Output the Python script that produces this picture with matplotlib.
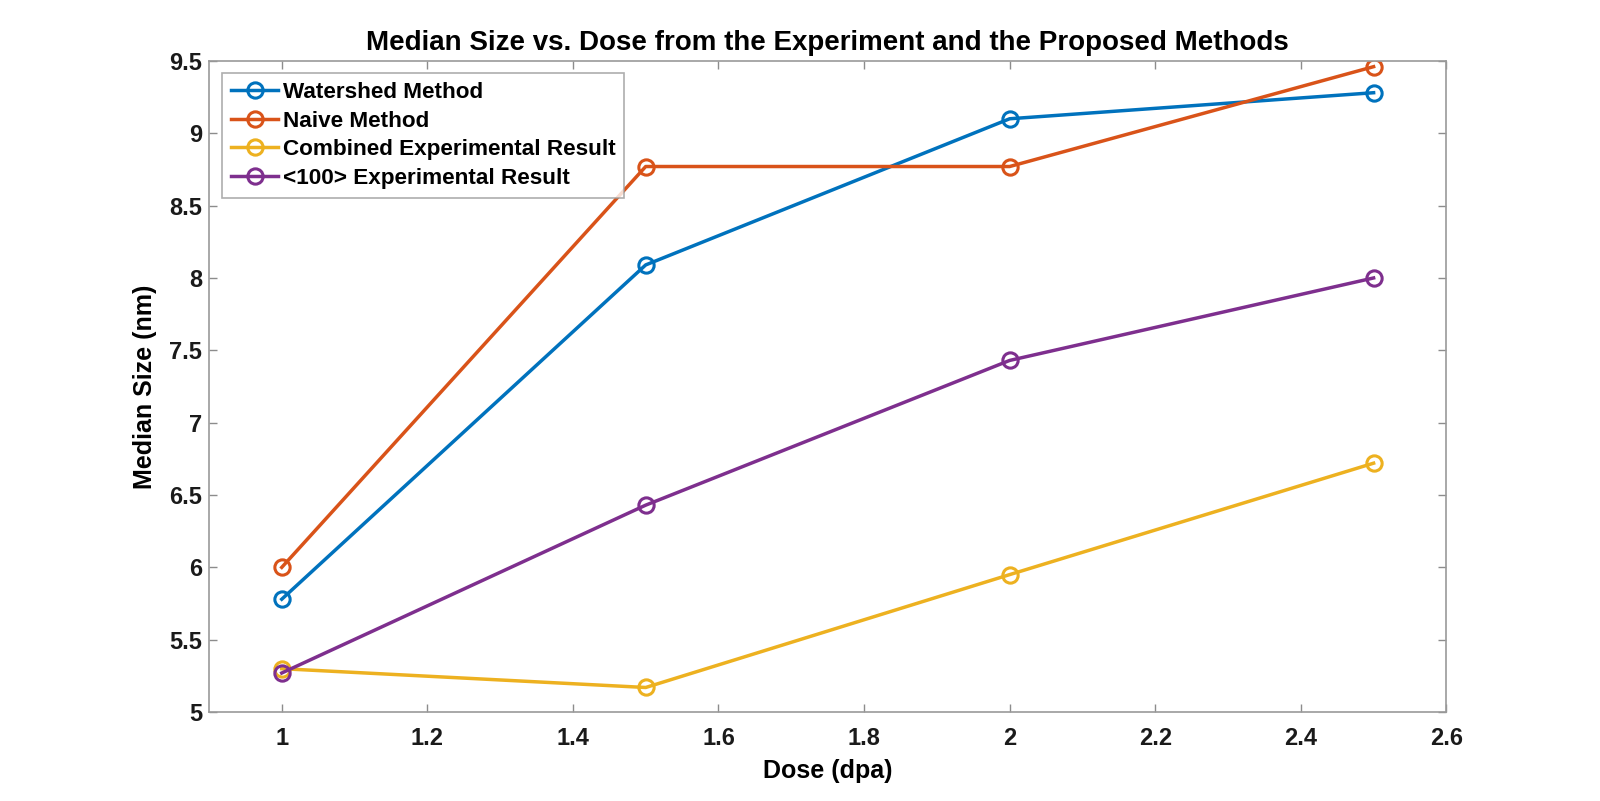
import matplotlib; matplotlib.use("Agg")
import matplotlib.pyplot as plt

plt.rcParams["font.family"] = ["Liberation Sans", "DejaVu Sans"]

dose = [1, 1.5, 2, 2.5]
watershed = [5.78, 8.09, 9.10, 9.28]
naive = [6.00, 8.77, 8.77, 9.46]
combined = [5.30, 5.17, 5.95, 6.72]
exp100 = [5.27, 6.43, 7.43, 8.00]
labels = ["Watershed Method", "Naive Method", "Combined Experimental Result", "<100> Experimental Result"]
colors = ["#0072BD", "#D95319", "#EDB120", "#7E2F8E"]
xticks = [1, 1.2, 1.4, 1.6, 1.8, 2, 2.2, 2.4, 2.6]
yticks = [5, 5.5, 6, 6.5, 7, 7.5, 8, 8.5, 9, 9.5]

fig = plt.figure(figsize=(16, 8.01), dpi=100)
ax = fig.add_axes([0.1306, 0.111, 0.7734, 0.813])
for ys, lab, c in zip([watershed, naive, combined, exp100], labels, colors):
    ax.plot(dose, ys, color=c, lw=2.5, marker="o", ms=11, mfc="none", mew=2.2, label=lab)

ax.set_xlim(0.9, 2.6); ax.set_ylim(5, 9.5)
ax.set_xticks(xticks); ax.set_xticklabels([f"{v:g}" for v in xticks])
ax.set_yticks(yticks); ax.set_yticklabels([f"{v:g}" for v in yticks])
ax.tick_params(direction="in", top=True, right=True, length=6, width=1, color="#8c8c8c",
               labelcolor="#1a1a1a", labelsize=17)
ax.tick_params(axis="x", pad=11)
ax.tick_params(axis="y", pad=5)
for lab in ax.get_xticklabels() + ax.get_yticklabels():
    lab.set_fontweight("bold")
for s in ax.spines.values():
    s.set_color("#9a9a9a"); s.set_linewidth(1.2)
ax.set_xlabel("Dose (dpa)", fontsize=18, fontweight="bold", labelpad=6)
ax.set_ylabel("Median Size (nm)", fontsize=18, fontweight="bold", labelpad=9)
ax.set_title("Median Size vs. Dose from the Experiment and the Proposed Methods",
             fontsize=20, fontweight="bold", pad=8)
leg = ax.legend(loc="upper left", bbox_to_anchor=(0.0105, 0.981), prop={"weight": "bold", "size": 16.2},
                frameon=True, fancybox=False, edgecolor="#9a9a9a", handlelength=2.1, handletextpad=0.2,
                borderpad=0.4, labelspacing=0.33, borderaxespad=0)
leg.get_frame().set_linewidth(1.2)
fig.savefig("out.png", dpi=100)
print("wrote out.png")
